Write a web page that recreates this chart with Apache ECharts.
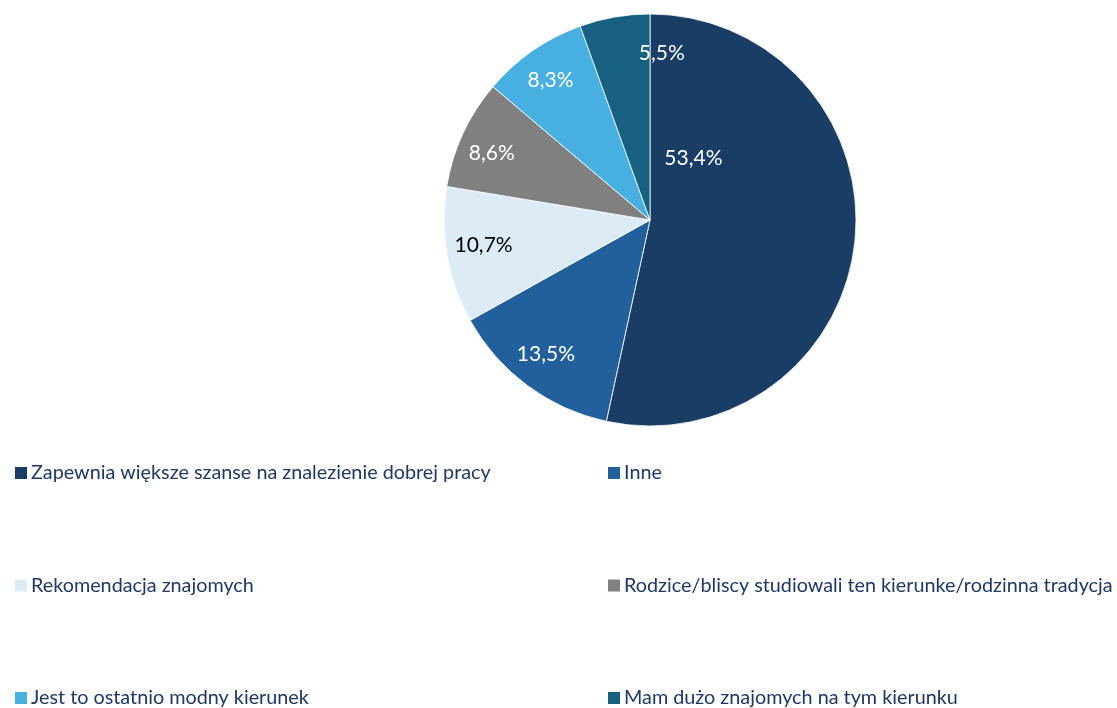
<!DOCTYPE html>
<html>
<head>
<meta charset="utf-8">
<script src="https://cdn.jsdelivr.net/npm/echarts@6/dist/echarts.min.js"></script>
<style>html,body{margin:0;padding:0;background:#fff;}#c{width:1117px;height:708px;}</style>
</head>
<body>
<div id="c"></div>
<script>
const categories = [
  "Zapewnia większe szanse na znalezienie dobrej pracy",
  "Inne",
  "Rekomendacja znajomych",
  "Rodzice/bliscy studiowali ten kierunke/rodzinna tradycja",
  "Jest to ostatnio modny kierunek",
  "Mam dużo znajomych na tym kierunku"
];
const values = [53.4, 13.5, 10.7, 8.6, 8.3, 5.5];
const colors = ["#193D65", "#22609C", "#DDEBF7", "#808080", "#47B0E0", "#17607F"];
const labelColors = ["#fff", "#fff", "#000", "#fff", "#fff", "#fff"];
const labelNudge = [[-62, -73], [-41, 49], [-62, 7], [-62, -22], [-39, -53], [30, -62]];

const chart = echarts.init(document.getElementById('c'), null, {renderer: 'canvas'});
const legendText = {fontFamily: 'Lato', fontSize: 19.8, color: '#1F3864', lineHeight: 22, padding: [0, 0, 0, -2]};
const legendCols = [13, 606];
const legendTop0 = 462, legendRowStep = 112.5;
const legends = categories.map((name, i) => ({
  data: [name],
  orient: 'horizontal',
  left: legendCols[i % 2],
  top: legendTop0 + Math.floor(i / 2) * legendRowStep,
  itemWidth: 14, itemHeight: 14, itemGap: 0, icon: 'rect',
  textStyle: legendText, selectedMode: false, padding: 0
}));
const option = {
  animation: false,
  color: colors,
  legend: legends,
  series: [{
    type: 'pie',
    center: [650, 220],
    radius: 206,
    startAngle: 90,
    clockwise: true,
    avoidLabelOverlap: false,
    itemStyle: {borderColor: '#ffffff', borderWidth: 0.8},
    label: {
      show: true, position: 'inside',
      fontFamily: 'Lato', fontSize: 21,
      formatter: p => p.value.toFixed(1).replace('.', ',') + '%'
    },
    labelLine: {show: false},
    emphasis: {disabled: true},
    labelLayout: function (params) {
      const n = labelNudge[params.dataIndex];
      return {dx: n[0], dy: n[1]};
    },
    data: categories.map((name, i) => ({
      name: name, value: values[i],
      label: {color: labelColors[i]}
    }))
  }]
};
chart.setOption(option);
</script>
</body>
</html>
